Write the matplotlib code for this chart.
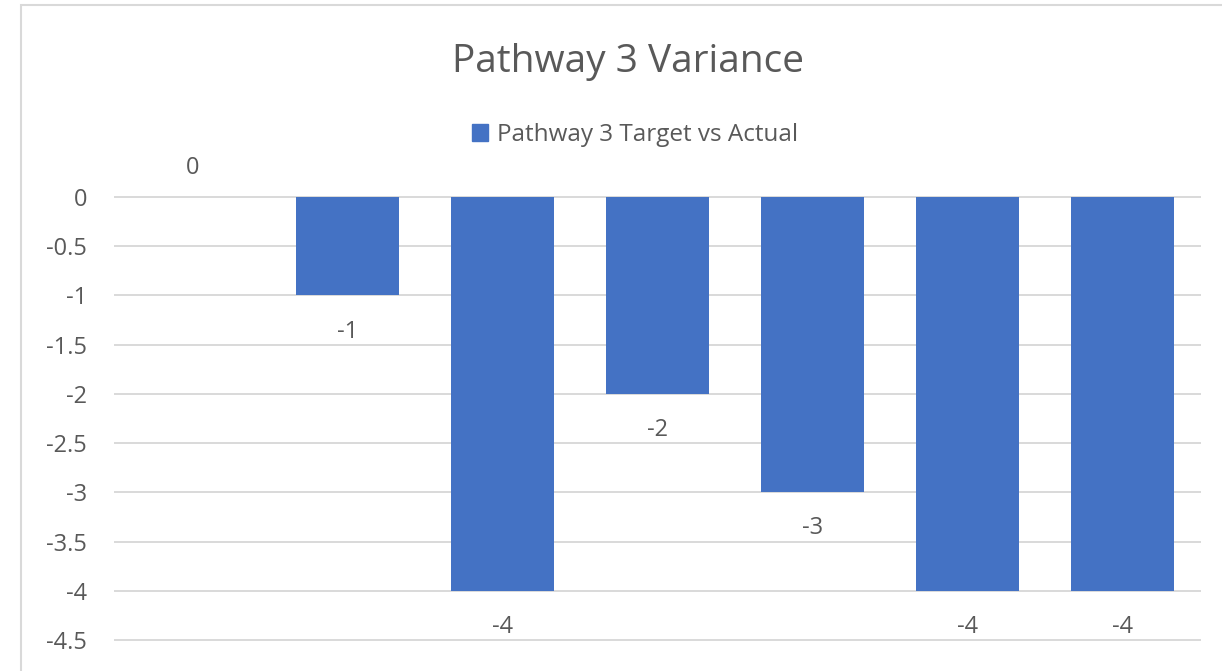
import matplotlib
matplotlib.use("Agg")
import matplotlib.pyplot as plt
import matplotlib.patches as mpatches
import numpy as np

# chart data
categories = ["1", "2", "3", "4", "5", "6", "7"]
variance = [0, -1, -4, -2, -3, -4, -4]
y_ticks = [0, -0.5, -1, -1.5, -2, -2.5, -3, -3.5, -4, -4.5]
y_tick_labels = ["0", "-0.5", "-1", "-1.5", "-2", "-2.5", "-3", "-3.5", "-4", "-4.5"]
series_name = "Pathway 3 Target vs Actual"
title = "Pathway 3 Variance"

BAR = "#4472C4"
TEXT = "#595959"
GRID = "#D9D9D9"
W, H = 1222, 671

plt.rcParams['font.family'] = ['Open Sans', 'DejaVu Sans']

fig = plt.figure(figsize=(W / 100, H / 100), dpi=100)
ax = fig.add_axes([115 / W, 1 - 640 / H, 1085 / W, 443 / H])

x = np.arange(len(categories))
ax.bar(x, variance, width=0.665, color=BAR, zorder=3)

ax.set_xlim(-0.5, len(categories) - 0.5)
ax.set_ylim(-4.5, 0)
ax.set_yticks(y_ticks)
ax.set_yticklabels(y_tick_labels)
ax.set_xticks([])
ax.tick_params(axis='y', length=0, pad=20, labelsize=17, labelcolor=TEXT)
for s in ax.spines.values():
    s.set_visible(False)
for yv in y_ticks:
    ax.axhline(yv, color=GRID, lw=1.4, zorder=1, clip_on=False)

# data labels, outside end
for xi, v in zip(x, variance):
    off = 21 if v >= 0 else -26
    ax.annotate(f"{v:g}", (xi, v), xytext=(0, off), textcoords="offset points",
                ha="center", va="center", fontsize=17, color=TEXT, annotation_clip=False)

fig.text(628 / W, 1 - 72 / H, title, ha="center", va="baseline", fontsize=28, color=TEXT)

handle = mpatches.Patch(color=BAR, label=series_name)
fig.legend(handles=[handle], loc="center", bbox_to_anchor=(635 / W, 1 - 135 / H),
           frameon=False, fontsize=17.5, labelcolor=TEXT, handlelength=0.65, handleheight=0.65,
           handletextpad=0.35)

# chart border (right and bottom edges are cropped off)
fig.patches.append(mpatches.Rectangle((21 / W, -0.1), 1.2, 1 - 5 / H + 0.1, transform=fig.transFigure,
                                      fill=False, edgecolor=GRID, lw=1.5))

fig.savefig("out.png", dpi=100)
